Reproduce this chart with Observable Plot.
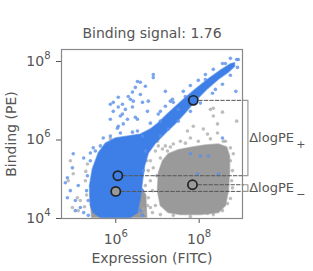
<!DOCTYPE html>
<html><head><meta charset="utf-8">
<script src="https://cdn.jsdelivr.net/npm/d3@7"></script>
<script src="https://cdn.jsdelivr.net/npm/@observablehq/plot@0.6"></script>
<style>body{margin:0;background:#fff;font-family:"DejaVu Sans";}</style>
</head><body><div id="chart"></div>
<script>
// All positions are log10 values
const title = "Binding signal: 1.76";
const xLabel = "Expression (FITC)";
const yLabel = "Binding (PE)";
const xTicks = [1e6, 1e8];
const yTicks = [1e4, 1e6, 1e8];

// outline of dense binder (blue) population
const binderCore = [[5.39,4.33],[5.37,4.84],[5.44,5.27],[5.58,5.67],[5.75,5.92],[5.99,6.05],[6.30,6.10],[6.59,6.15],[6.83,6.28],[7.02,6.44],[7.24,6.67],[7.55,6.97],[7.91,7.30],[8.22,7.56],[8.51,7.78],[8.75,7.94],[8.85,7.97],[8.85,7.88],[8.70,7.73],[8.46,7.55],[8.20,7.31],[7.91,7.00],[7.67,6.70],[7.43,6.42],[7.19,6.18],[6.95,5.92],[6.78,5.67],[6.69,5.34],[6.64,4.96],[6.59,4.53],[6.52,4.15],[6.35,4.03],[5.63,4.03],[5.46,4.15]];
// outlines of dense control (gray) populations
const controlCoreHigh = [[7.12,5.47],[7.26,5.65],[7.50,5.75],[7.84,5.82],[8.15,5.87],[8.46,5.90],[8.66,5.82],[8.73,5.59],[8.73,5.22],[8.70,4.71],[8.63,4.33],[8.46,4.15],[8.03,4.10],[7.55,4.10],[7.26,4.15],[7.07,4.33],[7.00,4.71],[7.02,5.16]];
const controlCoreLow = [[5.42,4.03],[5.38,4.60],[5.46,5.00],[6.50,5.00],[6.72,4.60],[6.74,4.03]];

// sparse events
const binderSparse = [[6.52,7.49],[6.59,7.47],[6.47,7.34],[6.40,7.22],[6.30,7.11],[6.35,7.04],[6.42,6.99],[6.06,7.09],[5.94,6.96],[5.87,6.91],[6.16,6.91],[6.06,6.84],[6.23,6.78],[5.94,6.73],[6.59,7.16],[6.64,6.96],[6.40,6.84],[6.16,6.66],[5.87,6.53],[6.28,6.53],[6.06,6.35],[6.52,6.53],[6.76,6.73],[6.78,6.99],[6.90,7.67],[6.90,7.59],[6.71,7.37],[7.19,7.24],[7.07,6.73],[7.38,6.96],[6.11,6.61],[6.47,6.58],[8.88,7.24],[4.98,5.65],[4.96,5.29],[4.84,5.04],[4.79,4.91],[4.91,4.71],[5.03,4.46],[5.15,4.28],[5.23,5.54],[5.39,5.67],[5.46,5.80],[5.70,6.05],[6.04,6.30],[6.18,6.41],[6.52,6.23],[5.03,4.20],[5.23,4.15],[5.10,4.84],[4.84,4.53],[7.79,5.65],[8.03,5.59],[8.22,5.59],[7.96,5.14],[8.46,5.14],[8.56,6.05],[7.67,7.11],[7.31,6.99],[8.15,7.54],[8.63,7.95],[8.94,8.05],[7.07,6.48],[7.50,6.78],[8.39,7.29],
  [6.83,6.43],[7.02,6.66],[7.19,6.86],[7.36,7.04],[7.62,7.24],[7.79,7.39],[7.98,7.52],[8.15,7.67],[8.34,7.80],[8.56,7.95],[8.75,8.08],[8.90,8.05],[7.07,6.10],[7.26,6.28],[7.50,6.48],[7.79,6.73],[8.03,6.94],[8.32,7.19],[8.56,7.42],[8.75,7.65],[8.92,7.85],[5.34,4.46],[5.30,4.71],[5.32,5.09],[5.39,5.47],[5.51,5.72],[5.63,5.85],[5.87,6.10],[6.11,6.18],[6.40,6.20],[6.64,6.10],[6.71,5.72],[6.66,5.22],[6.64,4.71],[6.59,4.20],[6.64,4.08],[5.34,4.08]];
const controlSparse = [[4.86,4.96],[4.98,5.14],[5.08,4.53],[4.96,4.28],[5.15,4.46],[5.27,4.96],[5.32,5.39],[4.91,5.47],[5.87,6.03],[5.10,4.20],[7.79,6.05],[8.20,6.15],[8.44,6.18],[8.58,5.97],[8.75,5.80],[8.82,5.65],[8.80,5.22],[8.80,4.78],[8.68,4.38],[7.55,5.97],[7.38,5.90],[7.24,5.72],[7.07,5.54],[6.90,5.29],[6.83,4.96],[6.78,4.53],[6.83,4.28],[8.20,4.13],[7.38,4.08],[7.72,6.23],[7.86,6.35],[8.44,6.41],[8.10,6.28],[8.27,6.78],[8.34,6.61],[8.56,6.71],[8.34,6.81],[6.66,5.72],[6.74,5.47],[6.88,4.71],[6.95,4.33],[6.71,4.13],[7.00,5.97],[7.07,4.84],[8.90,6.48],
  [6.95,5.72],[7.02,5.85],[7.12,5.77],[6.83,5.47],[6.78,5.22],[6.71,4.84],[6.76,4.33],[6.66,4.25],[6.88,4.15],[6.98,5.09],[7.07,4.58],[7.19,5.85],[7.31,5.82],[7.67,5.92],[7.98,5.97],[8.27,6.03],[8.63,5.97],[8.75,5.47],[8.78,4.96],[8.75,4.51],[8.56,4.20],[8.34,4.10],[7.79,4.05],[7.07,4.10],[5.30,4.60],[5.25,4.30],[5.28,5.20]];

// population medians (circled)
const markerSample = ["binder", "binder", "control", "control"];
const markerX = [7.86, 6.05, 6.00, 7.84];
const markerY = [7.01, 5.09, 4.69, 4.86];
// bracket annotations
const bracketLabels = ["ΔlogPE", "ΔlogPE"];
const bracketSubs = ["+", "−"];
const bracketHigh = [7.01, 4.86];
const bracketLow = [5.09, 4.69];

const P = v => 10 ** v;
const blue = "#3d7fe6", gray = "#9a9a9a";
const lineEnd = 9.065, bracketX = 9.17, labelX = 9.2;

const markers = markerSample.map((s, i) => ({s, x: markerX[i], y: markerY[i]}));
const dashes = markers.map(m => [{x: m.x, y: m.y}, {x: lineEnd, y: m.y}]);
const brackets = bracketHigh.map((h, i) => [[lineEnd, h], [bracketX, h], [bracketX, bracketLow[i]], [lineEnd, bracketLow[i]]]);
const labels = bracketLabels.map((t, i) => ({t, sub: bracketSubs[i], y: (bracketHigh[i] + bracketLow[i]) / 2}));

const fmt = d => String(Math.round(Math.log10(d)));

const core = (pts, color) => Plot.line(pts, {x: d => P(d[0]), y: d => P(d[1]), curve: "linear-closed", fill: color, stroke: color, strokeWidth: 1.5, strokeOpacity: 0.6});

const chart = Plot.plot({
  width: 313, height: 271,
  marginLeft: 61, marginRight: 71, marginTop: 49, marginBottom: 53,
  style: {fontFamily: "DejaVu Sans", fontSize: "14px", color: "#555", background: "#fff"},
  x: {type: "log", domain: [P(4.698), P(9.04)], ticks: xTicks, tickFormat: fmt, tickSize: 5, tickPadding: 11, label: null},
  y: {type: "log", domain: [P(4.0), P(8.306)], ticks: yTicks, tickFormat: fmt, tickSize: 5, tickPadding: 6, label: null},
  marks: [
    core(controlCoreLow, gray),
    Plot.dot(controlSparse, {x: d => P(d[0]), y: d => P(d[1]), r: 1.8, fill: "#a8a8a8", fillOpacity: 0.75}),
    core(controlCoreHigh, gray),
    core(binderCore, blue),
    Plot.dot(binderSparse, {x: d => P(d[0]), y: d => P(d[1]), r: 1.8, fill: "#5a90ea", fillOpacity: 0.8}),
    ...dashes.map(seg => Plot.line(seg, {x: d => P(d.x), y: d => P(d.y), stroke: "#555", strokeWidth: 1, strokeDasharray: "3.5,2"})),
    ...brackets.map(b => Plot.line(b, {x: d => P(d[0]), y: d => P(d[1]), stroke: "#999", strokeWidth: 1.2})),
    Plot.dot(markers, {x: d => P(d.x), y: d => P(d.y), r: 4.6, fill: d => d.s === "binder" ? blue : gray, stroke: "#222", strokeWidth: 1.7}),
    Plot.frame({stroke: "#888", strokeWidth: 1.2}),
    Plot.text(labels, {x: () => P(labelX), y: d => P(d.y), text: "t", textAnchor: "start", fontSize: 13, fill: "#555"}),
    Plot.text(labels, {x: () => P(labelX), y: d => P(d.y), text: "sub", textAnchor: "start", dx: 47, dy: 6, fontSize: 11, fill: "#555"}),
    Plot.text([title], {frameAnchor: "top", lineAnchor: "middle", dy: -16, text: d => d, fontSize: 14, fill: "#555"}),
    Plot.text([xLabel], {frameAnchor: "bottom", lineAnchor: "middle", dy: 40, text: d => d, fontSize: 14, fill: "#555"}),
    Plot.text([yLabel], {frameAnchor: "left", textAnchor: "middle", lineAnchor: "middle", dx: -50, rotate: -90, text: d => d, fontSize: 14, fill: "#555"})
  ]
});
// render tick labels as 10 with a raised exponent
d3.select(chart).selectAll('g[aria-label="x-axis tick label"] text, g[aria-label="y-axis tick label"] text').each(function() {
  const t = d3.select(this);
  const exp = t.text();
  t.text("10");
  t.append("tspan").attr("font-size", 10).attr("dy", -7).text(exp);
});
document.getElementById("chart").appendChild(chart);
</script></body></html>
